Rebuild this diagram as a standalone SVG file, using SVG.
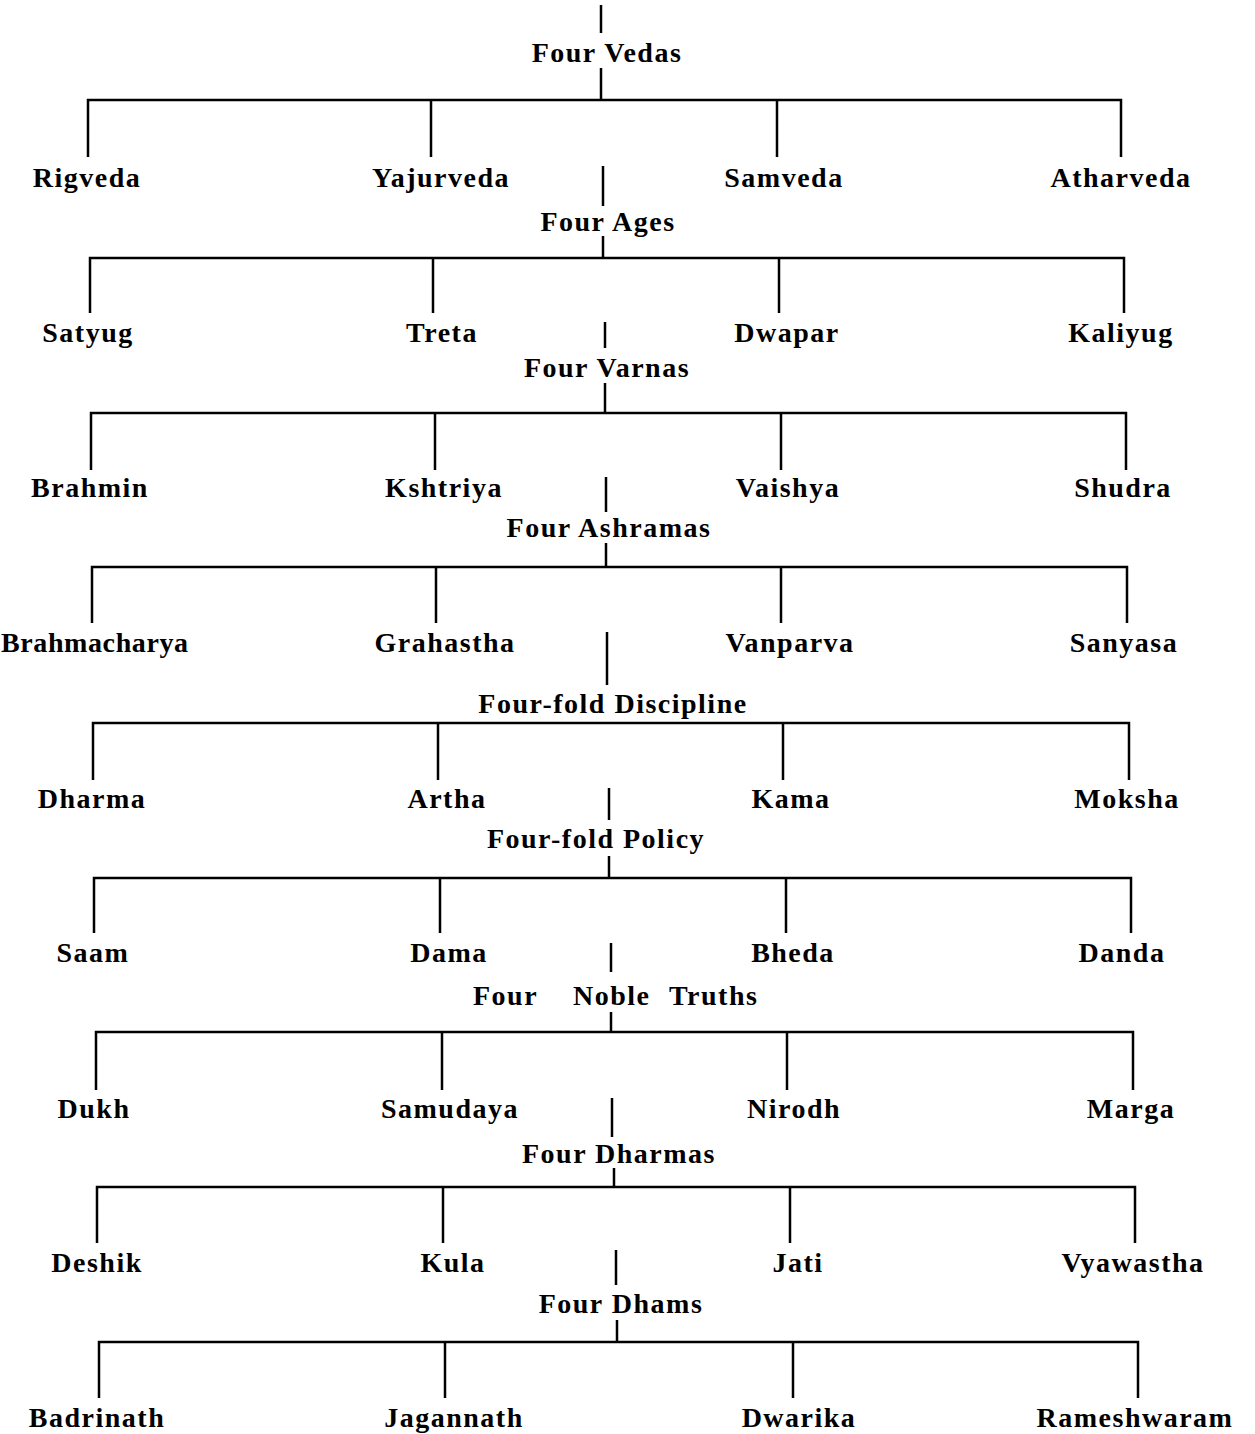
<svg xmlns="http://www.w3.org/2000/svg" width="1255" height="1434" viewBox="0 0 1255 1434">
<style>
text{font-family:"Liberation Serif","Times New Roman",serif;font-weight:bold;font-size:28px;letter-spacing:1.5px;fill:#000;text-anchor:middle}
.c line,.c path{stroke:#000;stroke-width:2.5;fill:none}
</style>
<rect width="1255" height="1434" fill="#fff"/>
<g class="c" id="connectors">
<line x1="601" y1="5" x2="601" y2="33"/>
<line x1="601" y1="68" x2="601" y2="100"/>
<path d="M88 157V100H1121V157M431 100V157M777 100V157"/>
<line x1="603" y1="166" x2="603" y2="206"/>
<line x1="603" y1="236" x2="603" y2="258"/>
<path d="M90 313V258H1124V313M433 258V313M779 258V313"/>
<line x1="605" y1="322" x2="605" y2="348"/>
<line x1="605" y1="383" x2="605" y2="413"/>
<path d="M91 470V413H1126V470M435 413V470M781 413V470"/>
<line x1="606" y1="477" x2="606" y2="512"/>
<line x1="606" y1="543" x2="606" y2="567"/>
<path d="M92 623V567H1127V623M436 567V623M781 567V623"/>
<line x1="607" y1="632" x2="607" y2="685"/>
<path d="M93 780V723H1129V780M438 723V780M783 723V780"/>
<line x1="609" y1="788" x2="609" y2="820"/>
<line x1="609" y1="856" x2="609" y2="878"/>
<path d="M94 933V878H1131V933M440 878V933M786 878V933"/>
<line x1="611" y1="943" x2="611" y2="972"/>
<line x1="611" y1="1012" x2="611" y2="1032"/>
<path d="M96 1090V1032H1133V1090M442 1032V1090M787 1032V1090"/>
<line x1="612" y1="1098" x2="612" y2="1137"/>
<line x1="614" y1="1168" x2="614" y2="1187"/>
<path d="M97 1243V1187H1135V1243M443 1187V1243M790 1187V1243"/>
<line x1="616" y1="1250" x2="616" y2="1285"/>
<line x1="617" y1="1320" x2="617" y2="1342"/>
<path d="M99 1398V1342H1138V1398M445 1342V1398M793 1342V1398"/>
</g>
<g id="four-vedas"><text x="607" y="62">Four Vedas</text></g>
<g id="rigveda"><text x="87" y="187">Rigveda</text></g>
<g id="yajurveda"><text x="441" y="187">Yajurveda</text></g>
<g id="samveda"><text x="784" y="187">Samveda</text></g>
<g id="atharveda"><text x="1121" y="187">Atharveda</text></g>
<g id="four-ages"><text x="608" y="231">Four Ages</text></g>
<g id="satyug"><text x="88" y="342">Satyug</text></g>
<g id="treta"><text x="442" y="342">Treta</text></g>
<g id="dwapar"><text x="787" y="342">Dwapar</text></g>
<g id="kaliyug"><text x="1121" y="342">Kaliyug</text></g>
<g id="four-varnas"><text x="607" y="377">Four Varnas</text></g>
<g id="brahmin"><text x="90" y="497">Brahmin</text></g>
<g id="kshtriya"><text x="444" y="497">Kshtriya</text></g>
<g id="vaishya"><text x="788" y="497">Vaishya</text></g>
<g id="shudra"><text x="1123" y="497">Shudra</text></g>
<g id="four-ashramas"><text x="609" y="537">Four Ashramas</text></g>
<g id="brahmacharya"><text x="1" y="652" style="text-anchor:start;letter-spacing:0.6px">Brahmacharya</text></g>
<g id="grahastha"><text x="445" y="652">Grahastha</text></g>
<g id="vanparva"><text x="790" y="652">Vanparva</text></g>
<g id="sanyasa"><text x="1124" y="652">Sanyasa</text></g>
<g id="four-fold-discipline"><text x="613" y="713">Four-fold Discipline</text></g>
<g id="dharma"><text x="92" y="808">Dharma</text></g>
<g id="artha"><text x="447" y="808">Artha</text></g>
<g id="kama"><text x="791" y="808">Kama</text></g>
<g id="moksha"><text x="1127" y="808">Moksha</text></g>
<g id="four-fold-policy"><text x="596" y="848">Four-fold Policy</text></g>
<g id="saam"><text x="93" y="962">Saam</text></g>
<g id="dama"><text x="449" y="962">Dama</text></g>
<g id="bheda"><text x="793" y="962">Bheda</text></g>
<g id="danda"><text x="1122" y="962">Danda</text></g>
<g id="four-noble-truths"><text y="1005" style="text-anchor:start"><tspan x="473">Four</tspan><tspan x="573">Noble</tspan><tspan x="669">Truths</tspan></text></g>
<g id="dukh"><text x="94" y="1118">Dukh</text></g>
<g id="samudaya"><text x="450" y="1118">Samudaya</text></g>
<g id="nirodh"><text x="794" y="1118">Nirodh</text></g>
<g id="marga"><text x="1131" y="1118">Marga</text></g>
<g id="four-dharmas"><text x="619" y="1163">Four Dharmas</text></g>
<g id="deshik"><text x="97" y="1272">Deshik</text></g>
<g id="kula"><text x="453" y="1272">Kula</text></g>
<g id="jati"><text x="798" y="1272">Jati</text></g>
<g id="vyawastha"><text x="1133" y="1272">Vyawastha</text></g>
<g id="four-dhams"><text x="621" y="1313">Four Dhams</text></g>
<g id="badrinath"><text x="97" y="1427">Badrinath</text></g>
<g id="jagannath"><text x="454" y="1427">Jagannath</text></g>
<g id="dwarika"><text x="799" y="1427">Dwarika</text></g>
<g id="rameshwaram"><text x="1135" y="1427">Rameshwaram</text></g>
</svg>
